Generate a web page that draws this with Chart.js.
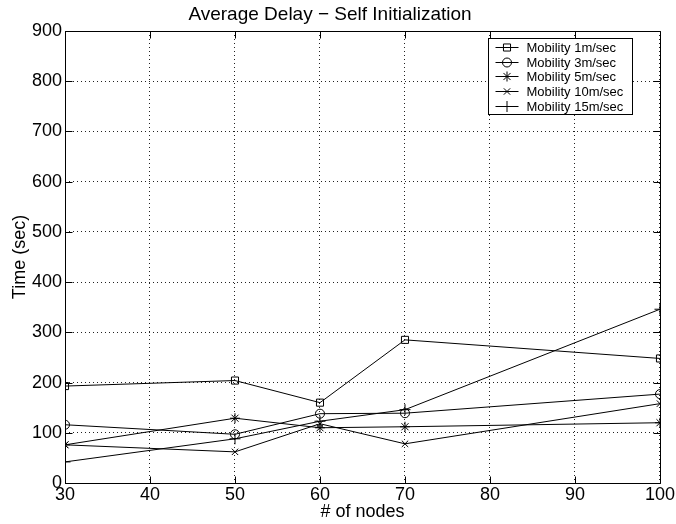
<!DOCTYPE html>
<html><head><meta charset="utf-8">
<script src="https://cdn.jsdelivr.net/npm/chart.js@4.4.0/dist/chart.umd.min.js"></script>
<style>html,body{margin:0;padding:0;background:#fff}#wrap{width:676px;height:524px;position:relative}</style>
</head><body><div id="wrap"><canvas id="c" width="676" height="524"></canvas></div>
<script>
// ---- data ----
const nodes = [30, 50, 60, 70, 100];
const mob1 = [193, 204, 160, 285, 248];
const mob3 = [116, 97, 138, 139, 177];
const mob5 = [76, 129, 110, 112, 120];
const mob10 = [76, 62, 118, 78, 158];
const mob15 = [42, 88, 123, 146, 346];
const seriesNames = ['Mobility 1m/sec', 'Mobility 3m/sec', 'Mobility 5m/sec', 'Mobility 10m/sec', 'Mobility 15m/sec'];
const xTicks = [30, 40, 50, 60, 70, 80, 90, 100];
const yTicks = [0, 100, 200, 300, 400, 500, 600, 700, 800, 900];
const titleText = 'Average Delay \u2212 Self Initialization';
const xTitle = '# of nodes';
const yTitle = 'Time (sec)';

const FONT = "'Liberation Sans', Arial, Helvetica, sans-serif";
const styles = [
  {pointStyle: 'rect', radius: 5},
  {pointStyle: 'circle', radius: 4.5},
  {pointStyle: 'star', radius: 5},
  {pointStyle: 'crossRot', radius: 4.5},
  {pointStyle: 'cross', radius: 5.5}
];
const allSeries = [mob1, mob3, mob5, mob10, mob15];

const datasets = allSeries.map((vals, i) => ({
  label: seriesNames[i],
  data: nodes.map((n, k) => ({x: n, y: vals[k]})),
  borderColor: '#000',
  borderWidth: 1,
  backgroundColor: 'rgba(0,0,0,0)',
  pointStyle: styles[i].pointStyle,
  pointRadius: styles[i].radius,
  pointHoverRadius: styles[i].radius,
  pointBorderColor: '#000',
  pointBackgroundColor: 'rgba(0,0,0,0)',
  pointBorderWidth: 1,
  tension: 0,
  fill: false
}));

const framePlugin = {
  id: 'frame',
  afterDraw(chart) {
    const ctx = chart.ctx;
    const a = chart.chartArea;
    const xs = chart.scales.x, ys = chart.scales.y;
    ctx.save();
    ctx.strokeStyle = '#000';
    ctx.lineWidth = 1;
    const L = Math.round(a.left) + 0.5, R = Math.round(a.right) + 0.5;
    const T = Math.round(a.top) + 0.5, B = Math.round(a.bottom) + 0.5;
    ctx.beginPath();
    ctx.rect(L, T, R - L, B - T);
    ctx.stroke();
    const tl = 7;
    ctx.beginPath();
    xTicks.forEach(v => {
      const px = Math.round(xs.getPixelForValue(v)) + 0.5;
      ctx.moveTo(px, B); ctx.lineTo(px, B - tl);
      ctx.moveTo(px, T); ctx.lineTo(px, T + tl);
    });
    yTicks.forEach(v => {
      const py = Math.round(ys.getPixelForValue(v)) + 0.5;
      ctx.moveTo(L, py); ctx.lineTo(L + tl, py);
      ctx.moveTo(R, py); ctx.lineTo(R - tl, py);
    });
    ctx.stroke();

    // legend
    const lw = 144, lh = 76;
    const lx = Math.round(a.right - 28 - lw) + 0.5;
    const ly = Math.round(a.top + 7) + 0.5;
    ctx.fillStyle = '#fff';
    ctx.fillRect(lx, ly, lw, lh);
    ctx.strokeRect(lx, ly, lw, lh);
    ctx.font = '13px ' + FONT;
    ctx.textBaseline = 'middle';
    ctx.textAlign = 'left';
    chart.data.datasets.forEach((ds, i) => {
      const y = Math.round(ly + 8.5 + i * 14.7) + 0.5;
      ctx.strokeStyle = '#000';
      ctx.beginPath();
      ctx.moveTo(lx + 7, y); ctx.lineTo(lx + 30, y);
      ctx.stroke();
      ctx.fillStyle = 'rgba(0,0,0,0)';
      Chart.helpers.drawPoint(ctx, {pointStyle: ds.pointStyle, radius: ds.pointRadius, rotation: 0, borderWidth: 1}, lx + 18.5, y);
      ctx.fillStyle = '#000';
      ctx.fillText(ds.label, lx + 38, y + 0.5);
    });
    ctx.restore();
  }
};

new Chart(document.getElementById('c'), {
  type: 'line',
  data: {datasets},
  options: {
    responsive: false,
    animation: false,
    devicePixelRatio: 1,
    layout: {padding: {left: 0, right: 16, top: 0, bottom: 0}},
    plugins: {
      legend: {display: false},
      tooltip: {enabled: false},
      title: {
        display: true,
        text: titleText,
        color: '#000',
        font: {family: FONT, size: 19, weight: 'normal', lineHeight: 1.2},
        padding: {top: 3, bottom: 5.2}
      }
    },
    scales: {
      x: {
        type: 'linear',
        min: 30, max: 100,
        afterBuildTicks: s => { s.ticks = xTicks.map(v => ({value: v})); },
        afterFit: s => { s.height = 41; },
        grid: {color: '#222', lineWidth: 1, drawTicks: false, borderDash: [1, 3]},
        border: {display: false, dash: [1, 3]},
        ticks: {color: '#000', padding: 1, maxRotation: 0, font: {family: FONT, size: 18}},
        title: {display: true, text: xTitle, color: '#000', padding: {top: 0, bottom: 1.5}, font: {family: FONT, size: 18}}
      },
      y: {
        min: 0, max: 900,
        afterBuildTicks: s => { s.ticks = yTicks.map(v => ({value: v})); },
        afterFit: s => { s.width = 65; },
        grid: {color: '#222', lineWidth: 1, drawTicks: false, borderDash: [1, 3]},
        border: {display: false, dash: [1, 3]},
        ticks: {color: '#000', padding: 3, font: {family: FONT, size: 18}},
        title: {display: true, text: yTitle, color: '#000', padding: {top: 9, bottom: 0}, font: {family: FONT, size: 18}}
      }
    }
  },
  plugins: [framePlugin]
});
</script>
</body></html>
